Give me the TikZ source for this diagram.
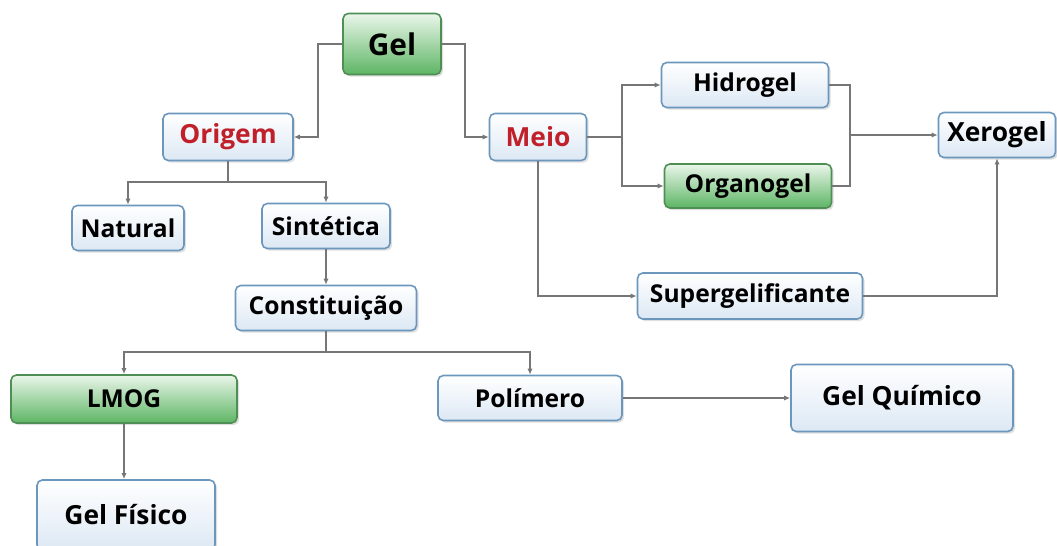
\documentclass[tikz,border=0pt]{standalone}
\usepackage{fontspec}
\setmainfont{Open Sans}
\usepackage{tikz}
\usetikzlibrary{arrows.meta,shadows}
\definecolor{boxline}{HTML}{6C97BD}
\definecolor{boxlow}{HTML}{DCE8F4}
\definecolor{greenline}{HTML}{4F8F55}
\definecolor{greenlow}{HTML}{5DB564}
\definecolor{greentop}{HTML}{EAF6EA}
\definecolor{origred}{HTML}{C0202A}
\definecolor{wire}{HTML}{767676}
\tikzset{
  box/.style={draw=boxline, line width=0.9pt, rounded corners=3pt,
    top color=white, bottom color=boxlow, font=\bfseries\fontsize{14}{16}\selectfont,
    drop shadow={opacity=0.25, shadow xshift=1.2pt, shadow yshift=-1.2pt},
    inner sep=0pt, anchor=center},
  greenbox/.style={box, draw=greenline, top color=greentop, bottom color=greenlow},
  redtext/.style={text=origred},
  bigtext/.style={font=\bfseries\fontsize{15}{17}\selectfont},
  wired/.style={draw=wire, line width=0.7pt, -{Latex[length=3.5pt,width=3pt]}},
  plain/.style={draw=wire, line width=0.7pt}
}
\begin{document}
\begin{tikzpicture}[x=0.02cm,y=-0.02cm]
  \useasboundingbox[fill=white] (0,0) rectangle (1057,545);
  % top level
  \node[greenbox, minimum width=1.96cm, minimum height=1.22cm, font=\bfseries\fontsize{17}{19}\selectfont] (gel) at (392,44) {Gel};
  \node[box, redtext, bigtext, minimum width=2.6cm, minimum height=0.94cm] (origem) at (228,137) {Origem};
  \node[box, redtext, bigtext, minimum width=1.94cm, minimum height=0.94cm] (meio) at (538,137) {Meio};
  % right branch
  \node[box, minimum width=3.34cm, minimum height=0.9cm] (hidro) at (745,85) {Hidrogel};
  \node[greenbox, minimum width=3.34cm, minimum height=0.88cm] (organo) at (748,186) {Organogel};
  \node[box, bigtext, minimum width=2.34cm, minimum height=0.9cm] (xero) at (997,135) {Xerogel};
  \node[box, minimum width=4.5cm, minimum height=0.92cm] (super) at (750,296) {Supergelificante};
  % left branch
  \node[box, minimum width=2.24cm, minimum height=0.9cm] (natural) at (128,228) {Natural};
  \node[box, minimum width=2.56cm, minimum height=0.9cm] (sint) at (326,226) {Sintética};
  \node[box, minimum width=3.62cm, minimum height=0.9cm] (const) at (326,308) {Constituição};
  \node[greenbox, minimum width=4.52cm, minimum height=0.96cm] (lmog) at (124,399) {LMOG};
  \node[box, minimum width=3.68cm, minimum height=0.9cm] (poli) at (530,398) {Polímero};
  \node[box, bigtext, minimum width=4.44cm, minimum height=1.34cm] (quim) at (902,398) {Gel Químico};
  \node[box, bigtext, minimum width=3.56cm, minimum height=1.4cm] (fis) at (126,515) {Gel Físico};
  % connectors
  \draw[wired] (gel.west) -| (318,90) |- (origem.east);
  \draw[wired] (gel.east) -| (465,90) |- (meio.west);
  \draw[plain] (origem.south) |- (228,182);
  \draw[wired] (228,182) -| (natural.north);
  \draw[wired] (228,182) -| (sint.north);
  \draw[wired] (sint.south) -- (const.north);
  \draw[plain] (const.south) -- (326,352);
  \draw[wired] (326,352) -| (lmog.north);
  \draw[wired] (326,352) -| (poli.north);
  \draw[wired] (lmog.south) -- (lmog.south |- fis.north);
  \draw[wired] (poli.east) -- (quim.west);
  \draw[plain] (meio.east) -- (622,137);
  \draw[wired] (622,137) |- (hidro.west);
  \draw[wired] (622,137) |- (organo.west);
  \draw[wired] (meio.south) |- (super.west);
  \draw[plain] (hidro.east) -| (850,135);
  \draw[plain] (organo.east) -| (850,135);
  \draw[wired] (850,135) -- (xero.west);
  \draw[wired] (super.east) -| (xero.south);
\end{tikzpicture}
\end{document}
